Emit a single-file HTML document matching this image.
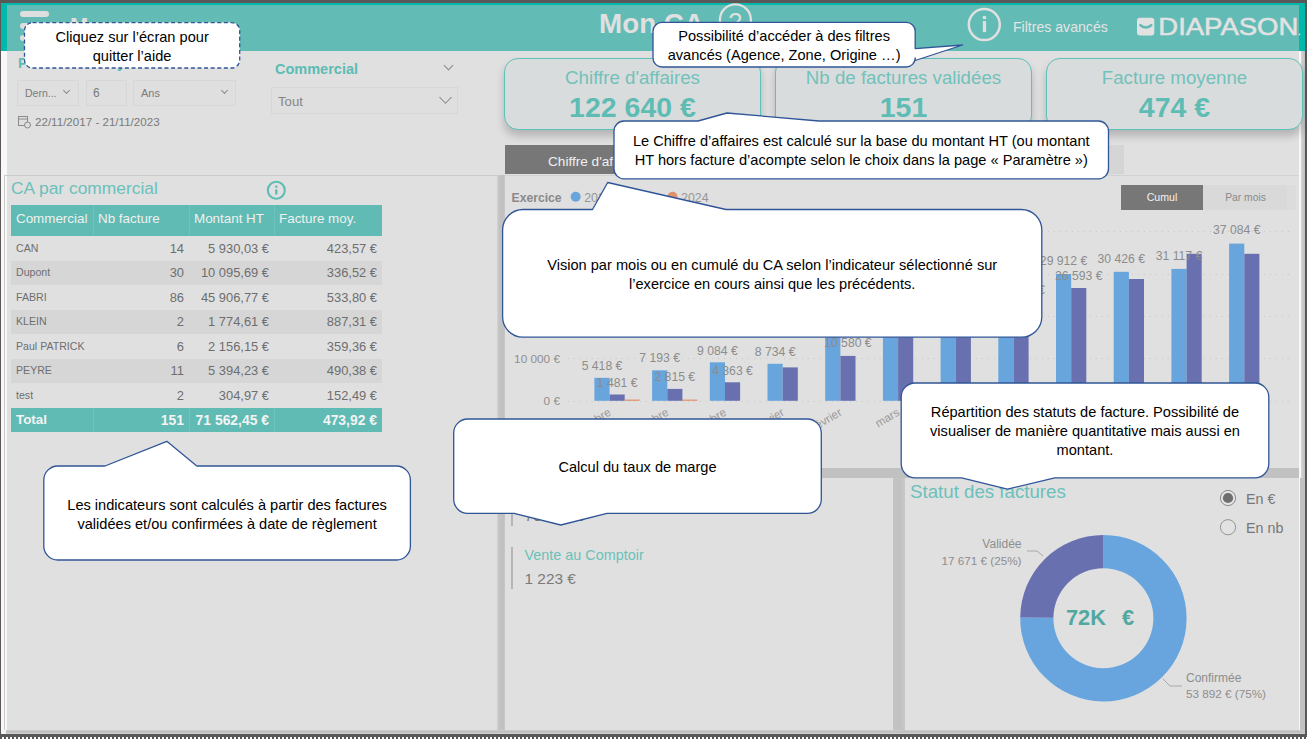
<!DOCTYPE html>
<html lang="fr"><head><meta charset="utf-8"><title>Mon CA</title>
<style>
*{margin:0;padding:0;box-sizing:border-box}
html,body{width:1307px;height:739px;overflow:hidden}
body{position:relative;background:#e0e0e0;font-family:"Liberation Sans",sans-serif;color:#666}
.a{position:absolute}
.t{position:absolute;white-space:nowrap}
.bar{position:absolute;left:20px;width:29px;height:6px;border-radius:3px;background:#dedede}
.card{position:absolute;top:58px;height:72px;border:1px solid #5cc2ba;border-radius:14px;background:#d9dcdc;box-shadow:0 6px 8px rgba(0,0,0,.2);text-align:center}
.card .tl{position:absolute;left:0;right:0;top:7px;font-size:18.7px;line-height:24px;color:#72c1bb}
.card .v{position:absolute;left:0;right:0;top:29.5px;font-size:28.5px;line-height:36px;font-weight:bold;color:#5fbcb4}
.dd{position:absolute;border:1px solid #d7d7d7;background:#dfdfdf}
.chev{position:absolute;width:7px;height:7px;border-right:1px solid #8a8a8a;border-bottom:1px solid #8a8a8a;transform:rotate(45deg)}
table.tb{position:absolute;left:11px;top:205px;width:372px;border-collapse:collapse;table-layout:fixed}
.tb td{height:24.5px;font-size:12.9px;color:#6a6a6a;text-align:right;padding:0 5px 0 0;white-space:nowrap;overflow:hidden}
.tb td.n{text-align:left;padding-left:5px;font-size:10.6px;color:#6a6a6a}
.tb tr.h td{height:31px;background:#5fbbb3;color:#f2f2f2;font-size:13.4px;text-align:left;padding-left:5px;border-left:1px solid #6cc3bc}
.tb tr.h td:first-child{border-left:0}
.tb tr.alt td{background:#d6d6d6}
.tb tr.tot td{background:#5fbbb3;color:#f5f5f5;font-weight:bold;font-size:13.9px;height:24px}
.tb tr.tot td.n{font-size:13.4px}
.co{position:absolute;display:flex;align-items:center;justify-content:center;color:#000;font-size:14.6px;line-height:19px;text-align:center;white-space:nowrap;padding-top:3px}
</style></head><body>

<!-- ===== frame ===== -->
<div class="a" style="left:0;top:0;width:1307px;height:3px;background:#585858"></div>
<div class="a" style="left:0;top:2px;width:1307px;height:1px;background:#625757"></div>
<div class="a" style="left:0;top:0;width:1px;height:739px;background:#5c5656"></div>
<div class="a" style="left:1305px;top:0;width:2px;height:739px;background:#585858"></div>
<div class="a" style="left:1px;top:3px;width:1304px;height:2px;background:#00b8ac"></div>
<div class="a" style="left:1px;top:3px;width:6px;height:48px;background:#00b8ac"></div>
<div class="a" style="left:1299px;top:3px;width:6px;height:48px;background:#00b8ac"></div>
<div class="a" style="left:7px;top:5px;width:1292px;height:46px;background:#62bbb5"></div>
<div class="a" style="left:1px;top:51px;width:6px;height:683px;background:#f8f8f8"></div>
<div class="a" style="left:1299px;top:51px;width:2px;height:427px;background:#f8f8f8"></div>
<div class="a" style="left:1301px;top:51px;width:4px;height:427px;background:linear-gradient(90deg,#d6d6d6,#bdbdbd)"></div>
<div class="a" style="left:1299px;top:478px;width:1px;height:256px;background:#f6f6f6"></div>
<div class="a" style="left:1300px;top:478px;width:5px;height:256px;background:#c1c1c1"></div>
<div class="a" style="left:1px;top:730px;width:1304px;height:4px;background:linear-gradient(#cdcdcd,#bfbfbf 45%,#c6c6c6 75%,#dadada)"></div>
<div class="a" style="left:1px;top:730px;width:5px;height:4px;background:#f2f2f2"></div>
<div class="a" style="left:0;top:734px;width:1307px;height:3px;background:#585858"></div>
<div class="a" style="left:0;top:737px;width:1307px;height:2px;background:repeating-linear-gradient(90deg,#585858 0 2px,#fbfbfb 2px 4px)"></div>

<!-- ===== header ===== -->
<div class="bar" style="top:11px"></div>
<div class="bar" style="top:23px"></div>
<div class="bar" style="top:35px"></div>
<div class="t" style="left:70px;top:13px;font-size:22px;line-height:26px;font-weight:bold;color:#dedede">M</div>
<div class="t" style="left:599px;top:6.5px;font-size:27.8px;line-height:34px;font-weight:bold;color:#e0e0e0">Mon CA</div>
<svg class="a" style="left:0;top:0" width="1307" height="60" viewBox="0 0 1307 60">
 <circle cx="735.4" cy="19.8" r="15.5" fill="none" stroke="#e0e0e0" stroke-width="2.3"/>
 <text x="735.2" y="29.5" font-family="'Liberation Sans', sans-serif" font-size="24" fill="#e0e0e0" text-anchor="middle">?</text>
 <circle cx="984.3" cy="24.6" r="15.5" fill="none" stroke="#e0e0e0" stroke-width="2.5"/>
 <rect x="982.8" y="16.1" width="3.3" height="3" fill="#e0e0e0"/>
 <rect x="982.8" y="21" width="3.3" height="11.1" fill="#e0e0e0"/>
 <rect x="1137" y="17.7" width="17.3" height="17.9" rx="3" fill="#e2e2e2"/>
 <path d="M1140.5 25.2 Q1146 29.6 1151.2 25.2" fill="none" stroke="#62bbb5" stroke-width="2.6" stroke-linecap="round"/>
 <text x="1158.3" y="35.4" font-family="'Liberation Sans', sans-serif" font-size="24.6" fill="#e2e2e2" stroke="#e2e2e2" stroke-width="0.55" textLength="140" lengthAdjust="spacingAndGlyphs">DIAPASON</text>
 <circle cx="1299.5" cy="34.5" r="0.9" fill="#bfe0dd"/>
</svg>
<div class="t" style="left:1013px;top:17.5px;font-size:14.1px;line-height:18px;color:#e4e4e4">Filtres avancés</div>

<!-- ===== slicers ===== -->
<div class="t" style="left:18px;top:55px;font-size:14.5px;line-height:16px;font-weight:bold;color:#5bbcb4">Période d’analyse</div>
<div class="dd" style="left:17px;top:80px;width:62px;height:26px"></div>
<div class="t" style="left:25px;top:86px;font-size:10.5px;line-height:14px;color:#7a7a7a">Dern...</div>
<div class="chev" style="left:64px;top:88px;width:5px;height:5px"></div>
<div class="dd" style="left:86px;top:80px;width:41px;height:26px"></div>
<div class="t" style="left:93px;top:85.5px;font-size:12px;line-height:14px;color:#7a7a7a">6</div>
<div class="dd" style="left:133px;top:80px;width:103px;height:26px"></div>
<div class="t" style="left:141px;top:86px;font-size:11px;line-height:14px;color:#7a7a7a">Ans</div>
<div class="chev" style="left:222px;top:88px;width:5px;height:5px"></div>
<svg class="a" style="left:18px;top:115px" width="14" height="14" viewBox="0 0 14 14"><rect x="0.5" y="1.5" width="9" height="9" fill="none" stroke="#8a8a8a"/><line x1="0.5" y1="4" x2="9.5" y2="4" stroke="#8a8a8a"/><circle cx="9.5" cy="10" r="3" fill="#dedede" stroke="#8a8a8a"/></svg>
<div class="t" style="left:35px;top:115px;font-size:11.6px;line-height:14px;color:#7a7a7a">22/11/2017 - 21/11/2023</div>

<div class="t" style="left:275px;top:61px;font-size:14.5px;line-height:17px;font-weight:bold;color:#5bbcb4">Commercial</div>
<div class="chev" style="left:445px;top:62px;width:7px;height:7px"></div>
<div class="dd" style="left:271px;top:87px;width:187px;height:27px"></div>
<div class="t" style="left:278px;top:94px;font-size:13.2px;line-height:16px;color:#858585">Tout</div>
<div class="chev" style="left:441px;top:93px;width:9px;height:9px"></div>

<!-- ===== KPI cards ===== -->
<div class="card" style="left:504px;width:257px"><div class="tl">Chiffre d'affaires</div><div class="v">122 640 €</div></div>
<div class="card" style="left:775px;width:257px"><div class="tl">Nb de factures validées</div><div class="v">151</div></div>
<div class="card" style="left:1046px;width:257px"><div class="tl">Facture moyenne</div><div class="v">474 €</div></div>

<!-- ===== panels ===== -->
<div class="a" style="left:4px;top:175px;width:493px;height:555px;background:#e0e0e0;border-top:1px solid #cbcbcb;border-left:1px solid #cbcbcb"></div>
<div class="a" style="left:5px;top:176px;width:2px;height:554px;background:#f8f8f8"></div>
<div class="a" style="left:497px;top:175px;width:8px;height:555px;background:linear-gradient(90deg,#d4d4d4,#c3c3c3 25%,#c1c1c1 80%,#c8c8c8)"></div>
<div class="a" style="left:505px;top:175px;width:794px;height:293px;background:#e0e0e0;border-top:1px solid #d2d2d2"></div>
<div class="a" style="left:505px;top:468px;width:794px;height:10px;background:#c1c1c1"></div>
<div class="a" style="left:505px;top:478px;width:388px;height:252px;background:#e0e0e0"></div>
<div class="a" style="left:893px;top:478px;width:12px;height:252px;background:linear-gradient(90deg,#c4c4c4,#c1c1c1 60%,#c8c8c8)"></div>
<div class="a" style="left:905px;top:478px;width:394px;height:252px;background:#e0e0e0"></div>

<!-- tabs -->
<div class="a" style="left:505px;top:145px;width:206px;height:29px;background:#777"></div>
<div class="a" style="left:711px;top:145px;width:413px;height:29px;background:#d5d5d5"></div>
<div class="t" style="left:548px;top:153.5px;font-size:13.6px;line-height:15px;color:#f0f0f0">Chiffre d'affaires</div>

<!-- ===== left panel ===== -->
<div class="t" style="left:11px;top:177px;font-size:17.4px;line-height:22px;color:#6cc1ba">CA par commercial</div>
<svg class="a" style="left:266px;top:180px" width="21" height="21" viewBox="0 0 21 21"><circle cx="10.3" cy="10.2" r="8.5" fill="none" stroke="#5bbcb3" stroke-width="2"/><rect x="9" y="5.5" width="2.5" height="2.2" rx="1" fill="#5bbcb3"/><rect x="9.1" y="9.2" width="2.3" height="5.6" rx="1" fill="#5bbcb3"/></svg>
<div class="a" style="left:11px;top:205px;width:371px;height:31px;background:#5fbbb3"></div>
<div class="t" style="left:16px;top:209.5px;font-size:13.4px;line-height:17px;color:#f0f0f0">Commercial</div>
<div class="a" style="left:93px;top:205px;width:1px;height:31px;background:#6ec4bd"></div>
<div class="t" style="left:98px;top:209.5px;font-size:13.4px;line-height:17px;color:#f0f0f0">Nb facture</div>
<div class="a" style="left:189px;top:205px;width:1px;height:31px;background:#6ec4bd"></div>
<div class="t" style="left:194px;top:209.5px;font-size:13.4px;line-height:17px;color:#f0f0f0">Montant HT</div>
<div class="a" style="left:274px;top:205px;width:1px;height:31px;background:#6ec4bd"></div>
<div class="t" style="left:279px;top:209.5px;font-size:13.4px;line-height:17px;color:#f0f0f0">Facture moy.</div>
<div class="t" style="left:16px;top:241.5px;font-size:10.6px;line-height:13px;color:#6e6e6e">CAN</div>
<div class="t" style="right:1123px;top:240.5px;font-size:12.9px;line-height:16px;color:#6e6e6e">14</div>
<div class="t" style="right:1038px;top:240.5px;font-size:12.9px;line-height:16px;color:#6e6e6e">5 930,03 €</div>
<div class="t" style="right:930px;top:240.5px;font-size:12.9px;line-height:16px;color:#6e6e6e">423,57 €</div>
<div class="a" style="left:11px;top:260.5px;width:371px;height:24.5px;background:#d6d6d6"></div>
<div class="t" style="left:16px;top:266.0px;font-size:10.6px;line-height:13px;color:#6e6e6e">Dupont</div>
<div class="t" style="right:1123px;top:265.0px;font-size:12.9px;line-height:16px;color:#6e6e6e">30</div>
<div class="t" style="right:1038px;top:265.0px;font-size:12.9px;line-height:16px;color:#6e6e6e">10 095,69 €</div>
<div class="t" style="right:930px;top:265.0px;font-size:12.9px;line-height:16px;color:#6e6e6e">336,52 €</div>
<div class="t" style="left:16px;top:290.5px;font-size:10.6px;line-height:13px;color:#6e6e6e">FABRI</div>
<div class="t" style="right:1123px;top:289.5px;font-size:12.9px;line-height:16px;color:#6e6e6e">86</div>
<div class="t" style="right:1038px;top:289.5px;font-size:12.9px;line-height:16px;color:#6e6e6e">45 906,77 €</div>
<div class="t" style="right:930px;top:289.5px;font-size:12.9px;line-height:16px;color:#6e6e6e">533,80 €</div>
<div class="a" style="left:11px;top:309.5px;width:371px;height:24.5px;background:#d6d6d6"></div>
<div class="t" style="left:16px;top:315.0px;font-size:10.6px;line-height:13px;color:#6e6e6e">KLEIN</div>
<div class="t" style="right:1123px;top:314.0px;font-size:12.9px;line-height:16px;color:#6e6e6e">2</div>
<div class="t" style="right:1038px;top:314.0px;font-size:12.9px;line-height:16px;color:#6e6e6e">1 774,61 €</div>
<div class="t" style="right:930px;top:314.0px;font-size:12.9px;line-height:16px;color:#6e6e6e">887,31 €</div>
<div class="t" style="left:16px;top:339.5px;font-size:10.6px;line-height:13px;color:#6e6e6e">Paul PATRICK</div>
<div class="t" style="right:1123px;top:338.5px;font-size:12.9px;line-height:16px;color:#6e6e6e">6</div>
<div class="t" style="right:1038px;top:338.5px;font-size:12.9px;line-height:16px;color:#6e6e6e">2 156,15 €</div>
<div class="t" style="right:930px;top:338.5px;font-size:12.9px;line-height:16px;color:#6e6e6e">359,36 €</div>
<div class="a" style="left:11px;top:358.5px;width:371px;height:24.5px;background:#d6d6d6"></div>
<div class="t" style="left:16px;top:364.0px;font-size:10.6px;line-height:13px;color:#6e6e6e">PEYRE</div>
<div class="t" style="right:1123px;top:363.0px;font-size:12.9px;line-height:16px;color:#6e6e6e">11</div>
<div class="t" style="right:1038px;top:363.0px;font-size:12.9px;line-height:16px;color:#6e6e6e">5 394,23 €</div>
<div class="t" style="right:930px;top:363.0px;font-size:12.9px;line-height:16px;color:#6e6e6e">490,38 €</div>
<div class="t" style="left:16px;top:388.5px;font-size:10.6px;line-height:13px;color:#6e6e6e">test</div>
<div class="t" style="right:1123px;top:387.5px;font-size:12.9px;line-height:16px;color:#6e6e6e">2</div>
<div class="t" style="right:1038px;top:387.5px;font-size:12.9px;line-height:16px;color:#6e6e6e">304,97 €</div>
<div class="t" style="right:930px;top:387.5px;font-size:12.9px;line-height:16px;color:#6e6e6e">152,49 €</div>
<div class="a" style="left:11px;top:407.5px;width:371px;height:24px;background:#5fbbb3"></div>
<div class="a" style="left:93px;top:407.5px;width:1px;height:24px;background:#6ec4bd"></div>
<div class="a" style="left:189px;top:407.5px;width:1px;height:24px;background:#6ec4bd"></div>
<div class="a" style="left:274px;top:407.5px;width:1px;height:24px;background:#6ec4bd"></div>
<div class="t" style="left:16px;top:411.5px;font-size:13.4px;line-height:16px;font-weight:bold;color:#f4f4f4">Total</div>
<div class="t" style="right:1123px;top:411.5px;font-size:13.9px;line-height:16px;font-weight:bold;color:#f4f4f4">151</div>
<div class="t" style="right:1038px;top:411.5px;font-size:13.9px;line-height:16px;font-weight:bold;color:#f4f4f4">71 562,45 €</div>
<div class="t" style="right:930px;top:411.5px;font-size:13.9px;line-height:16px;font-weight:bold;color:#f4f4f4">473,92 €</div>
<!-- ===== chart + donut ===== -->
<svg class="a" style="left:0;top:0" width="1307" height="739" viewBox="0 0 1307 739" font-family="'Liberation Sans', sans-serif">
<line x1="568" y1="401.5" x2="1292" y2="401.5" stroke="#c9c9c9" stroke-width="1" stroke-dasharray="1 5"/>
<line x1="568" y1="358.5" x2="1292" y2="358.5" stroke="#c9c9c9" stroke-width="1" stroke-dasharray="1 5"/>
<line x1="568" y1="316.5" x2="1292" y2="316.5" stroke="#c9c9c9" stroke-width="1" stroke-dasharray="1 5"/>
<line x1="568" y1="274.5" x2="1292" y2="274.5" stroke="#c9c9c9" stroke-width="1" stroke-dasharray="1 5"/>
<line x1="568" y1="231.5" x2="1292" y2="231.5" stroke="#c9c9c9" stroke-width="1" stroke-dasharray="1 5"/>
<text x="560" y="405.0" font-size="11.8" fill="#8f8f8f" text-anchor="end">0 €</text>
<text x="560" y="362.6" font-size="11.8" fill="#8f8f8f" text-anchor="end">10 000 €</text>
<text x="560" y="320.2" font-size="11.8" fill="#8f8f8f" text-anchor="end">20 000 €</text>
<text x="560" y="277.8" font-size="11.8" fill="#8f8f8f" text-anchor="end">30 000 €</text>
<text x="560" y="235.4" font-size="11.8" fill="#8f8f8f" text-anchor="end">40 000 €</text>
<rect x="594.4" y="377.8" width="15.2" height="23.0" fill="#69a5dd"/>
<rect x="609.6" y="394.5" width="15.1" height="6.3" fill="#6870b0"/>
<rect x="624.7" y="399.6" width="15" height="1.2" fill="#e0906a"/>
<rect x="652.1" y="370.3" width="15.2" height="30.5" fill="#69a5dd"/>
<rect x="667.3" y="388.9" width="15.1" height="11.9" fill="#6870b0"/>
<rect x="682.4" y="399.6" width="15" height="1.2" fill="#e0906a"/>
<rect x="709.8" y="362.3" width="15.2" height="38.5" fill="#69a5dd"/>
<rect x="725.0" y="382.3" width="15.1" height="18.5" fill="#6870b0"/>
<rect x="767.5" y="363.8" width="15.2" height="37.0" fill="#69a5dd"/>
<rect x="782.7" y="367.4" width="15.1" height="33.4" fill="#6870b0"/>
<rect x="825.2" y="329.6" width="15.2" height="71.2" fill="#69a5dd"/>
<rect x="840.4" y="355.9" width="15.1" height="44.9" fill="#6870b0"/>
<rect x="882.9" y="313.5" width="15.2" height="87.3" fill="#69a5dd"/>
<rect x="898.1" y="332.1" width="15.1" height="68.7" fill="#6870b0"/>
<rect x="940.6" y="301.6" width="15.2" height="99.2" fill="#69a5dd"/>
<rect x="955.8" y="319.0" width="15.1" height="81.8" fill="#6870b0"/>
<rect x="998.3" y="289.7" width="15.2" height="111.1" fill="#69a5dd"/>
<rect x="1013.5" y="299.9" width="15.1" height="100.9" fill="#6870b0"/>
<rect x="1056.0" y="274.0" width="15.2" height="126.8" fill="#69a5dd"/>
<rect x="1071.2" y="288.0" width="15.1" height="112.8" fill="#6870b0"/>
<rect x="1113.7" y="271.8" width="15.2" height="129.0" fill="#69a5dd"/>
<rect x="1128.9" y="279.0" width="15.1" height="121.8" fill="#6870b0"/>
<rect x="1171.4" y="268.9" width="15.2" height="131.9" fill="#69a5dd"/>
<rect x="1186.6" y="253.8" width="15.1" height="147.0" fill="#6870b0"/>
<rect x="1229.1" y="243.6" width="15.2" height="157.2" fill="#69a5dd"/>
<rect x="1244.3" y="253.8" width="15.1" height="147.0" fill="#6870b0"/>
<text x="602.0" y="369.8" font-size="12.2" fill="#8c8c8c" text-anchor="middle">5 418 €</text>
<text x="617.1" y="387.3" font-size="12.2" fill="#8c8c8c" text-anchor="middle">1 481 €</text>
<text x="659.7" y="362.3" font-size="12.2" fill="#8c8c8c" text-anchor="middle">7 193 €</text>
<text x="674.8" y="380.8" font-size="12.2" fill="#8c8c8c" text-anchor="middle">2 815 €</text>
<text x="717.4" y="354.8" font-size="12.2" fill="#8c8c8c" text-anchor="middle">9 084 €</text>
<text x="732.5" y="375.3" font-size="12.2" fill="#8c8c8c" text-anchor="middle">4 363 €</text>
<text x="775.1" y="356.3" font-size="12.2" fill="#8c8c8c" text-anchor="middle">8 734 €</text>
<text x="847.9" y="347.3" font-size="12.2" fill="#8c8c8c" text-anchor="middle">10 580 €</text>
<text x="1063.6" y="265.3" font-size="12.2" fill="#8c8c8c" text-anchor="middle">29 912 €</text>
<text x="1078.7" y="280.3" font-size="12.2" fill="#8c8c8c" text-anchor="middle">26 593 €</text>
<text x="1121.3" y="263.3" font-size="12.2" fill="#8c8c8c" text-anchor="middle">30 426 €</text>
<text x="1179.0" y="260.3" font-size="12.2" fill="#8c8c8c" text-anchor="middle">31 117 €</text>
<text x="1236.7" y="234.3" font-size="12.2" fill="#8c8c8c" text-anchor="middle">37 084 €</text>
<text x="890.5" y="315.3" font-size="12.2" fill="#8c8c8c" text-anchor="middle">20 600 €</text>
<text x="948.2" y="303.3" font-size="12.2" fill="#8c8c8c" text-anchor="middle">23 400 €</text>
<text x="1021.0" y="294.3" font-size="12.2" fill="#8c8c8c" text-anchor="middle">23 800 €</text>
<text x="832.8" y="330.3" font-size="12.2" fill="#8c8c8c" text-anchor="middle">16 800 €</text>
<text x="0" y="0" font-size="11.6" fill="#9a9a9a" text-anchor="end" transform="translate(611.9 414.5) rotate(-31)">octobre</text>
<text x="0" y="0" font-size="11.6" fill="#9a9a9a" text-anchor="end" transform="translate(669.6 414.5) rotate(-31)">novembre</text>
<text x="0" y="0" font-size="11.6" fill="#9a9a9a" text-anchor="end" transform="translate(727.3 414.5) rotate(-31)">décembre</text>
<text x="0" y="0" font-size="11.6" fill="#9a9a9a" text-anchor="end" transform="translate(785.0 414.5) rotate(-31)">janvier</text>
<text x="0" y="0" font-size="11.6" fill="#9a9a9a" text-anchor="end" transform="translate(842.7 414.5) rotate(-31)">février</text>
<text x="0" y="0" font-size="11.6" fill="#9a9a9a" text-anchor="end" transform="translate(900.4 414.5) rotate(-31)">mars</text>
<text x="0" y="0" font-size="11.6" fill="#9a9a9a" text-anchor="end" transform="translate(958.1 414.5) rotate(-31)">avril</text>
<text x="0" y="0" font-size="11.6" fill="#9a9a9a" text-anchor="end" transform="translate(1015.8 414.5) rotate(-31)">mai</text>
<text x="0" y="0" font-size="11.6" fill="#9a9a9a" text-anchor="end" transform="translate(1073.5 414.5) rotate(-31)">juin</text>
<text x="0" y="0" font-size="11.6" fill="#9a9a9a" text-anchor="end" transform="translate(1131.2 414.5) rotate(-31)">juillet</text>
<text x="0" y="0" font-size="11.6" fill="#9a9a9a" text-anchor="end" transform="translate(1188.9 414.5) rotate(-31)">août</text>
<text x="0" y="0" font-size="11.6" fill="#9a9a9a" text-anchor="end" transform="translate(1246.6 414.5) rotate(-31)">septembre</text>
<text x="511.5" y="202" font-size="12.2" font-weight="bold" fill="#8a8a8a">Exercice</text>
<circle cx="575.7" cy="196.8" r="5" fill="#69a5dd"/>
<text x="584.2" y="202" font-size="12.4" fill="#969696">2022</text>
<circle cx="624.2" cy="196.8" r="5" fill="#6870b0"/>
<text x="632.7" y="202" font-size="12.4" fill="#969696">2023</text>
<circle cx="672.5" cy="196.8" r="5" fill="#e0906a"/>
<text x="681.0" y="202" font-size="12.4" fill="#969696">2024</text>
<path d="M1103.40 535.00 A83.2 83.2 0 1 1 1020.20 617.47 L1053.40 617.76 A50 50 0 1 0 1103.40 568.20 Z" fill="#68a5de"/>
<path d="M1020.20 617.47 A83.2 83.2 0 0 1 1103.40 535.00 L1103.40 568.20 A50 50 0 0 0 1053.40 617.76 Z" fill="#6870b0"/>
<polyline points="1027,551 1037,551 1043,556" fill="none" stroke="#a8a8a8" stroke-width="1"/>
<polyline points="1163,679 1170,686 1182,686" fill="none" stroke="#a8a8a8" stroke-width="1"/>
</svg>
<div class="a" style="left:1121px;top:185px;width:82px;height:25px;background:#777"></div>
<div class="t" style="left:1121px;top:191px;width:82px;text-align:center;font-size:10.6px;line-height:13px;color:#f2f2f2">Cumul</div>
<div class="a" style="left:1203px;top:185px;width:93px;height:25px;background:#dcdcdc"></div>
<div class="a" style="left:1203px;top:185px;width:84px;height:25px;background:#d9d9d9"></div>
<div class="t" style="left:1203px;top:191px;width:85px;text-align:center;font-size:10.3px;line-height:13px;color:#8a8a8a">Par mois</div>
<!-- ===== bottom middle panel ===== -->
<div class="a" style="left:511px;top:484px;width:1.5px;height:42px;background:#b5b5b5"></div>
<div class="t" style="left:524.5px;top:483px;font-size:14.4px;line-height:16px;color:#6ac0b9">Vente Atelier</div>
<div class="t" style="left:524.5px;top:507px;font-size:15.4px;line-height:18px;color:#7a7a7a">70 339 €</div>
<div class="a" style="left:511px;top:547px;width:1.5px;height:42px;background:#b5b5b5"></div>
<div class="t" style="left:524.5px;top:547px;font-size:14.4px;line-height:16px;color:#6ac0b9">Vente au Comptoir</div>
<div class="t" style="left:524.5px;top:570px;font-size:15.4px;line-height:18px;color:#7a7a7a">1 223 €</div>

<!-- ===== bottom right panel ===== -->
<div class="t" style="left:910px;top:480px;font-size:18.7px;line-height:23px;color:#6cc1ba">Statut des factures</div>
<svg class="a" style="left:1218px;top:488px" width="22" height="50" viewBox="0 0 22 50">
 <circle cx="10" cy="10" r="7.6" fill="#e4e4e4" stroke="#8a8a8a" stroke-width="1"/>
 <circle cx="10" cy="10" r="5.1" fill="#6e6e6e"/>
 <circle cx="10" cy="39.2" r="7.6" fill="#e2e2e2" stroke="#959595" stroke-width="1"/>
</svg>
<div class="t" style="left:1246px;top:490px;font-size:14.3px;line-height:18px;color:#777">En €</div>
<div class="t" style="left:1246px;top:518.5px;font-size:14.3px;line-height:18px;color:#777">En nb</div>
<div class="t" style="left:1066px;top:604px;font-size:21.8px;line-height:28px;font-weight:bold;color:#52a8a0">72K<span style="display:inline-block;width:16px"></span>€</div>
<div class="t" style="right:285.5px;top:537px;font-size:12px;line-height:14px;color:#8e8e8e">Validée</div>
<div class="t" style="right:285.5px;top:553.5px;font-size:11.7px;line-height:14px;color:#8e8e8e">17 671 € (25%)</div>
<div class="t" style="left:1186px;top:671px;font-size:12px;line-height:14px;color:#8e8e8e">Confirmée</div>
<div class="t" style="left:1186px;top:686.5px;font-size:11.7px;line-height:14px;color:#8e8e8e">53 892 € (75%)</div>
<!-- ===== help callouts ===== -->
<svg class="a" style="left:0;top:0" width="1307" height="739" viewBox="0 0 1307 739">
<path d="M32.5 22.6 L231.7 22.6 A8 8 0 0 1 239.7 30.6 L239.7 60.0 A8 8 0 0 1 231.7 68.0 L32.5 68.0 A8 8 0 0 1 24.5 60.0 L24.5 30.6 A8 8 0 0 1 32.5 22.6 Z" fill="#fff" stroke="#2f5597" stroke-width="1.3" stroke-linejoin="round" stroke-dasharray="4 2.6"/>
<path d="M662.0 22.3 L906.2 22.3 A9 9 0 0 1 915.2 31.3 L915.2 48.6 L962.6 45.0 L915.2 60.5 L915.2 58.0 A9 9 0 0 1 906.2 67.0 L662.0 67.0 A9 9 0 0 1 653.0 58.0 L653.0 31.3 A9 9 0 0 1 662.0 22.3 Z" fill="#fff" stroke="#2f5597" stroke-width="1.3" stroke-linejoin="round"/>
<path d="M624.0 121.0 L698.0 121.0 L727.0 113.0 L819.0 121.0 L1098.5 121.0 A10 10 0 0 1 1108.5 131.0 L1108.5 168.8 A10 10 0 0 1 1098.5 178.8 L624.0 178.8 A10 10 0 0 1 614.0 168.8 L614.0 131.0 A10 10 0 0 1 624.0 121.0 Z" fill="#fff" stroke="#2f5597" stroke-width="1.3" stroke-linejoin="round"/>
<path d="M523.1 209.5 L592.5 209.5 L607.7 182.5 L726.0 209.5 L1021.3 209.5 A20.5 20.5 0 0 1 1041.8 230.0 L1041.8 316.7 A20.5 20.5 0 0 1 1021.3 337.2 L523.1 337.2 A20.5 20.5 0 0 1 502.6 316.7 L502.6 230.0 A20.5 20.5 0 0 1 523.1 209.5 Z" fill="#fff" stroke="#2f5597" stroke-width="1.3" stroke-linejoin="round"/>
<path d="M57.8 466.0 L105.0 466.0 L166.8 441.3 L196.8 466.0 L396.4 466.0 A14 14 0 0 1 410.4 480.0 L410.4 546.0 A14 14 0 0 1 396.4 560.0 L57.8 560.0 A14 14 0 0 1 43.8 546.0 L43.8 480.0 A14 14 0 0 1 57.8 466.0 Z" fill="#fff" stroke="#2f5597" stroke-width="1.3" stroke-linejoin="round"/>
<path d="M467.7 419.0 L807.3 419.0 A14 14 0 0 1 821.3 433.0 L821.3 499.3 A14 14 0 0 1 807.3 513.3 L607.0 513.3 L560.8 525.0 L514.0 513.3 L467.7 513.3 A14 14 0 0 1 453.7 499.3 L453.7 433.0 A14 14 0 0 1 467.7 419.0 Z" fill="#fff" stroke="#2f5597" stroke-width="1.3" stroke-linejoin="round"/>
<path d="M915.2 383.0 L1254.8 383.0 A14 14 0 0 1 1268.8 397.0 L1268.8 463.8 A14 14 0 0 1 1254.8 477.8 L1054.8 477.8 L1007.4 489.2 L961.7 477.8 L915.2 477.8 A14 14 0 0 1 901.2 463.8 L901.2 397.0 A14 14 0 0 1 915.2 383.0 Z" fill="#fff" stroke="#2f5597" stroke-width="1.3" stroke-linejoin="round"/>
</svg>
<div class="co" style="left:24.5px;top:22.6px;width:215.2px;height:45.4px">Cliquez sur l’écran pour<br>quitter l’aide</div>
<div class="co" style="left:653px;top:22.3px;width:262.2px;height:44.7px">Possibilité d’accéder à des filtres<br>avancés (Agence, Zone, Origine …)</div>
<div class="co" style="left:614px;top:121px;width:494.5px;height:57.8px">Le Chiffre d’affaires est calculé sur la base du montant HT (ou montant<br>HT hors facture d’acompte selon le choix dans la page « Paramètre »)</div>
<div class="co" style="left:502.6px;top:209.5px;width:539.2px;height:127.7px">Vision par mois ou en cumulé du CA selon l’indicateur sélectionné sur<br>l’exercice en cours ainsi que les précédents.</div>
<div class="co" style="left:43.8px;top:466px;width:366.6px;height:94.0px">Les indicateurs sont calculés à partir des factures<br>validées et/ou confirmées à date de règlement</div>
<div class="co" style="left:453.7px;top:419px;width:367.6px;height:94.3px">Calcul du taux de marge</div>
<div class="co" style="left:901.2px;top:383px;width:367.6px;height:94.8px">Répartition des statuts de facture. Possibilité de<br>visualiser de manière quantitative mais aussi en<br>montant.</div>
</body></html>
